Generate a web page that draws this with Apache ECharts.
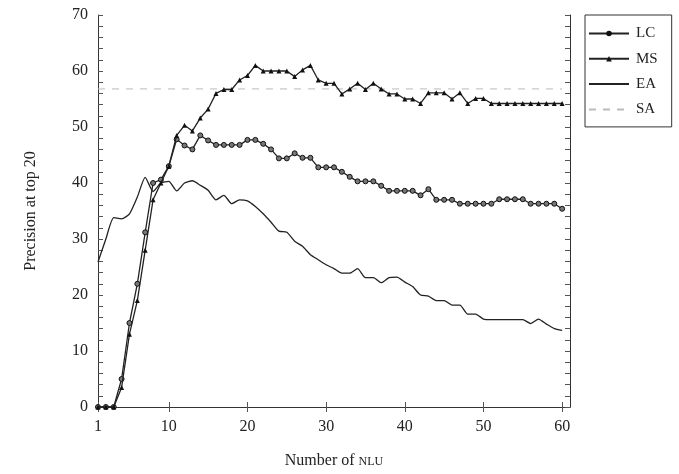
<!DOCTYPE html>
<html>
<head>
<meta charset="utf-8">
<script src="https://cdn.jsdelivr.net/npm/echarts@6/dist/echarts.min.js"></script>
<style>
  html, body { margin: 0; padding: 0; background: #fff; }
  #chart { width: 679px; height: 474px; }
</style>
</head>
<body>
<div id="chart"></div>
<script>
// number of NLU (x values)
var nlu = [1, 2, 3, 4, 5, 6, 7, 8, 9, 10, 11, 12, 13, 14, 15, 16, 17, 18, 19, 20,
  21, 22, 23, 24, 25, 26, 27, 28, 29, 30, 31, 32, 33, 34, 35, 36, 37, 38, 39, 40,
  41, 42, 43, 44, 45, 46, 47, 48, 49, 50, 51, 52, 53, 54, 55, 56, 57, 58, 59, 60]

var lcValues = [0, 0, 0, 5, 15, 22, 31.2, 40, 40.6, 43, 47.8, 46.7, 46, 48.5, 47.6, 46.8, 46.8, 46.8, 46.8, 47.7,
  47.7, 47, 46, 44.4, 44.4, 45.3, 44.5, 44.5, 42.8, 42.8, 42.8, 42, 41.1, 40.3, 40.3, 40.3, 39.5, 38.6, 38.6, 38.6,
  38.6, 37.8, 38.9, 37, 37, 37, 36.3, 36.3, 36.3, 36.3, 36.3, 37.1, 37.1, 37.1, 37.1, 36.3, 36.3, 36.3, 36.3, 35.4]

var msValues = [0, 0, 0, 3.5, 13, 19, 28, 37, 40, 43, 48.5, 50.3, 49.3, 51.6, 53.2, 56, 56.7, 56.7, 58.4, 59.2,
  61, 60, 60, 60, 60, 59, 60.2, 61, 58.4, 57.8, 57.8, 55.9, 56.8, 57.8, 56.7, 57.8, 56.8, 55.9, 55.9, 55,
  55, 54.2, 56.1, 56.1, 56.1, 55, 56.1, 54.2, 55.1, 55.1, 54.2, 54.2, 54.2, 54.2, 54.2, 54.2, 54.2, 54.2, 54.2, 54.2]

var eaValues = [25.9, 30, 33.8, 33.6, 34.5, 37.5, 41, 38.5, 40, 40.3, 38.6, 40, 40.4, 39.6, 38.7, 37, 37.8, 36.3, 37, 36.8,
  35.8, 34.5, 33, 31.4, 31.2, 29.6, 28.7, 27.2, 26.3, 25.4, 24.7, 23.9, 23.9, 24.7, 23.1, 23.1, 22.2, 23.1, 23.2, 22.3,
  21.5, 20, 19.8, 19, 19, 18.2, 18.2, 16.6, 16.6, 15.7, 15.6, 15.6, 15.6, 15.6, 15.6, 14.9, 15.7, 14.8, 14, 13.7]

var saValue = 56.8

var xTicks = [1, 10, 20, 30, 40, 50, 60]

var serif = '"Liberation Serif", "DejaVu Serif", serif'

function pairs(values) {
  return values.map(function (v, i) { return [nlu[i], v] })
}

var chart = echarts.init(document.getElementById('chart'))

var axisLine = { show: true, lineStyle: { color: '#333', width: 1 } }

var option = {
  backgroundColor: '#fff',
  animation: false,
  grid: { left: 98, right: 109, top: 15, bottom: 65, containLabel: false },
  legend: {
    orient: 'vertical',
    left: 585,
    top: 15,
    itemWidth: 40,
    itemHeight: 7,
    itemGap: 10.3,
    padding: [11, 14, 10, 3],
    borderColor: '#333',
    borderWidth: 1,
    textStyle: { fontFamily: serif, fontSize: 15, color: '#222', padding: [0, 0, 0, 2] },
    data: [
      { name: 'LC', itemStyle: { color: '#111', borderWidth: 0 } },
      { name: 'MS' },
      { name: 'EA', itemStyle: { opacity: 0 } },
      { name: 'SA', itemStyle: { opacity: 0 } }
    ]
  },
  xAxis: [
    {
      type: 'value',
      min: 1,
      max: 61,
      name: 'Number of {sc|NLU}',
      nameLocation: 'middle',
      nameGap: 46,
      nameTextStyle: {
        fontFamily: serif, fontSize: 16, color: '#222',
        rich: { sc: { fontFamily: serif, fontSize: 12, color: '#222', padding: [2, 0, 0, 0] } }
      },
      axisLine: axisLine,
      axisTick: { show: true, inside: true, length: 5, customValues: xTicks, lineStyle: { color: '#555' } },
      axisLabel: { customValues: xTicks, fontFamily: serif, fontSize: 16, color: '#222', margin: 12 },
      splitLine: { show: false }
    },
    {
      type: 'value',
      position: 'top',
      min: 1,
      max: 61,
      axisLine: axisLine,
      axisTick: { show: true, inside: true, length: 5, customValues: xTicks, lineStyle: { color: '#555' } },
      axisLabel: { show: false },
      splitLine: { show: false }
    }
  ],
  yAxis: [
    {
      type: 'value',
      min: 0,
      max: 70,
      interval: 10,
      name: 'Precision at top 20',
      nameLocation: 'middle',
      nameGap: 59,
      nameTextStyle: { fontFamily: serif, fontSize: 16, color: '#222' },
      axisLine: axisLine,
      axisTick: { show: true, inside: true, length: 5, lineStyle: { color: '#555' } },
      minorTick: { show: true, splitNumber: 5, length: 5, lineStyle: { color: '#555' } },
      axisLabel: { fontFamily: serif, fontSize: 16, color: '#222', margin: 10 },
      splitLine: { show: false }
    },
    {
      type: 'value',
      position: 'right',
      min: 0,
      max: 70,
      interval: 10,
      axisLine: axisLine,
      axisTick: { show: true, inside: true, length: 5, lineStyle: { color: '#555' } },
      minorTick: { show: true, splitNumber: 5, length: 5, lineStyle: { color: '#555' } },
      axisLabel: { show: false },
      splitLine: { show: false }
    }
  ],
  series: [
    {
      name: 'SA',
      type: 'line',
      data: [[nlu[0], saValue], [nlu[nlu.length - 1], saValue]],
      showSymbol: false,
      symbol: 'none',
      lineStyle: { color: '#bbb', width: 1, type: [7, 7] },
      itemStyle: { color: '#bbb' },
      z: 1
    },
    {
      name: 'EA',
      type: 'line',
      data: pairs(eaValues),
      symbol: 'none',
      smooth: 0.2,
      lineStyle: { color: '#222', width: 1.3 },
      itemStyle: { color: '#222' },
      z: 2
    },
    {
      name: 'LC',
      type: 'line',
      data: pairs(lcValues),
      symbol: 'circle',
      symbolSize: 5,
      lineStyle: { color: '#222', width: 1.3 },
      itemStyle: { color: '#777', borderColor: '#111', borderWidth: 1 },
      z: 3
    },
    {
      name: 'MS',
      type: 'line',
      data: pairs(msValues),
      symbol: 'triangle',
      symbolSize: 5,
      lineStyle: { color: '#222', width: 1.3 },
      itemStyle: { color: '#111' },
      z: 4
    }
  ]
}

chart.setOption(option)
</script>
</body>
</html>
